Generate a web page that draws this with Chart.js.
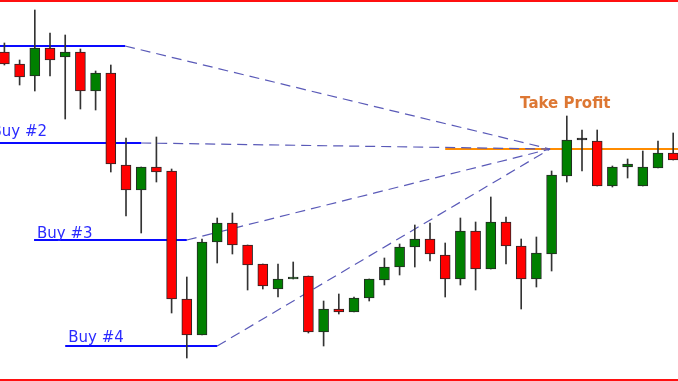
<!DOCTYPE html>
<html><head><meta charset="utf-8">
<script src="https://cdn.jsdelivr.net/npm/chart.js@4.4.0/dist/chart.umd.min.js"></script>
<style>html,body{margin:0;padding:0;background:#fff;overflow:hidden}canvas{display:block}</style>
</head><body>
<canvas id="c" width="678" height="381"></canvas>
<script>
// Candle data (price, 4 decimals)
const open  = [1.3348,1.3336,1.3324,1.3352,1.3343,1.3348,1.3309,1.3327,1.3235,1.3210,1.3233,1.3229,1.3101,1.3065,1.3158,1.3177,1.3155,1.3136,1.3111,1.3121,1.3124,1.3068,1.3091,1.3088,1.3102,1.3120,1.3133,1.3153,1.3161,1.3145,1.3121,1.3169,1.3131,1.3178,1.3154,1.3121,1.3146,1.3224,1.3260,1.3259,1.3214,1.3233,1.3214,1.3232,1.3247];
const high  = [1.3357,1.3340,1.3390,1.3367,1.3365,1.3351,1.3329,1.3335,1.3262,1.3233,1.3263,1.3231,1.3123,1.3161,1.3182,1.3187,1.3155,1.3136,1.3136,1.3138,1.3124,1.3099,1.3106,1.3103,1.3121,1.3142,1.3156,1.3175,1.3177,1.3157,1.3182,1.3178,1.3203,1.3183,1.3161,1.3163,1.3229,1.3284,1.3270,1.3270,1.3234,1.3241,1.3249,1.3259,1.3267];
const low   = [1.3335,1.3315,1.3309,1.3324,1.3281,1.3291,1.3290,1.3228,1.3184,1.3167,1.3218,1.3087,1.3042,1.3065,1.3137,1.3146,1.3110,1.3111,1.3103,1.3121,1.3067,1.3054,1.3086,1.3088,1.3099,1.3115,1.3125,1.3133,1.3139,1.3103,1.3115,1.3110,1.3131,1.3136,1.3091,1.3113,1.3129,1.3218,1.3229,1.3214,1.3213,1.3222,1.3214,1.3232,1.3240];
const close = [1.3336,1.3323,1.3352,1.3340,1.3348,1.3309,1.3327,1.3236,1.3210,1.3233,1.3228,1.3101,1.3065,1.3158,1.3177,1.3155,1.3135,1.3114,1.3121,1.3123,1.3068,1.3091,1.3088,1.3102,1.3121,1.3133,1.3153,1.3161,1.3146,1.3121,1.3169,1.3131,1.3178,1.3154,1.3121,1.3147,1.3225,1.3260,1.3260,1.3214,1.3233,1.3236,1.3233,1.3247,1.3240];

// Entry levels (price) and the bar indices their lines span
const levelNames  = ['Buy #1','Buy #2','Buy #3','Buy #4'];
const levelPrices = [1.3354, 1.3257, 1.3160, 1.3054];
const levelFrom   = [-7, -1.05, 1.95, 4.0];
const levelTo     = [7.94, 9.0, 12.0, 14.0];

// Take profit
const tpName  = 'Take Profit';
const tpPrice = 1.3251;
const tpFrom  = 29;
const tpTarget = 35.9;   // bar index where the dashed projections meet

const idx = open.map((_, i) => i);
const bodyColors = idx.map(i => close[i] > open[i] ? '#008000' : (close[i] < open[i] ? '#ff0000' : '#111111'));

const datasets = [];
datasets.push({
  type: 'bar', label: 'bodies', order: 0, grouped: false,
  data: idx.map(i => ({x: i, y: [open[i], close[i]]})),
  backgroundColor: bodyColors, borderColor: '#262626', borderWidth: 1,
  borderSkipped: false, barThickness: 10, minBarLength: 2
});
datasets.push({
  type: 'bar', label: 'wicks', order: 1, grouped: false,
  data: idx.map(i => ({x: i, y: [low[i], high[i]]})),
  backgroundColor: '#333333', borderWidth: 0, barThickness: 1
});
levelPrices.forEach((p, k) => {
  datasets.push({
    type: 'line', order: 3, label: levelNames[k],
    data: [{x: levelFrom[k], y: p}, {x: levelTo[k], y: p}],
    borderColor: '#0a0aff', borderWidth: 2, pointRadius: 0, tension: 0
  });
  datasets.push({
    type: 'line', order: 3, label: levelNames[k] + ' path',
    data: [{x: levelTo[k], y: p}, {x: tpTarget, y: tpPrice}],
    borderColor: '#5a5ab8', borderWidth: 1.2, borderDash: [10, 6], pointRadius: 0, tension: 0
  });
});
datasets.push({
  type: 'line', order: 5, label: tpName,
  data: [{x: tpFrom, y: tpPrice}, {x: 46, y: tpPrice}],
  borderColor: '#ff8c00', borderWidth: 2, pointRadius: 0, tension: 0
});

const labelDy = [5, 7, 2, 4];
const decor = {
  id: 'decor',
  afterDatasetsDraw(chart) {
    const {ctx, scales: {x, y}} = chart;
    ctx.save();
    ctx.textBaseline = 'alphabetic';
    ctx.font = '15px "DejaVu Sans"';
    ctx.fillStyle = '#2b2bff';
    levelNames.forEach((n, k) => {
      ctx.fillText(n, x.getPixelForValue(levelFrom[k]) + 3, y.getPixelForValue(levelPrices[k]) - labelDy[k]);
    });
    ctx.font = 'bold 15px "DejaVu Sans"';
    ctx.fillStyle = '#dd7733';
    ctx.fillText(tpName, x.getPixelForValue(tpTarget) - 30, y.getPixelForValue(tpPrice) - 41);
    ctx.fillStyle = '#ff1010';
    ctx.fillRect(0, 0, chart.width, 2);
    ctx.fillRect(0, chart.height - 2, chart.width, 2);
    ctx.restore();
  }
};

new Chart(document.getElementById('c'), {
  type: 'bar',
  data: {datasets},
  options: {
    responsive: false, animation: false, devicePixelRatio: 1,
    layout: {padding: 0, autoPadding: false},
    plugins: {legend: {display: false}, tooltip: {enabled: false}},
    scales: {
      x: {type: 'linear', min: -0.29, max: 44.316, display: false, offset: false, grid: {offset: false}},
      y: {type: 'linear', min: 1.3019, max: 1.3400, display: false}
    }
  },
  plugins: [decor]
});
</script>
</body></html>
